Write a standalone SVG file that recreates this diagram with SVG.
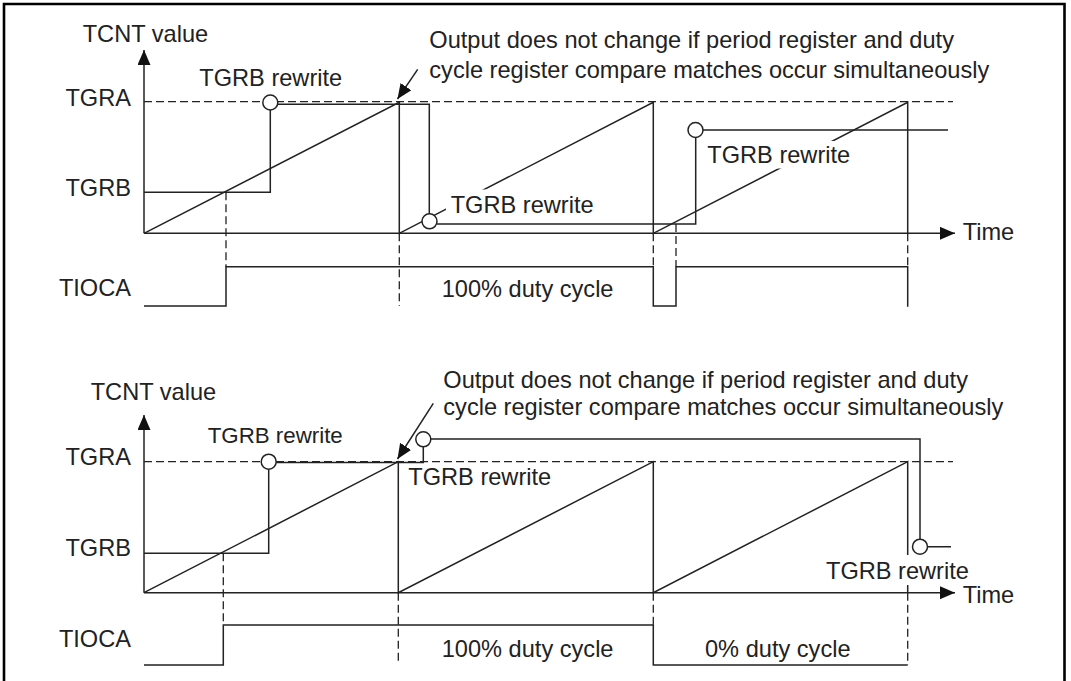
<svg xmlns="http://www.w3.org/2000/svg" width="1071" height="681" viewBox="0 0 1071 681">
<style>
text{font-family:"Liberation Sans",Arial,sans-serif;font-size:23.6px;fill:#222}
.l{fill:none;stroke:#222;stroke-width:1.5}
.d{fill:none;stroke:#222;stroke-width:1.3;stroke-dasharray:8,4}
.c{fill:#fff;stroke:#222;stroke-width:1.5}
.k{fill:#fff;stroke:none}
</style>
<defs>
<marker id="arr" markerUnits="userSpaceOnUse" markerWidth="16" markerHeight="14" refX="15" refY="6.5" orient="auto"><path d="M0,0 L15,6.5 L0,13 z" fill="#111"/></marker>
</defs>
<rect x="0" y="0" width="1071" height="681" fill="#fff"/>
<path d="M4,684 V4 H1064.5 V684" fill="none" stroke="#000" stroke-width="2.6"/>

<g id="top-panel">
<g id="top-connectors">
<path class="l" d="M144,233.3 V50" marker-end="url(#arr)"/>
<path class="l" d="M144,233.3 H955" marker-end="url(#arr)"/>
<path class="d" d="M144,101.7 H953"/>
<path class="l" d="M144,233.3 L399.3,102.3 V233.3 L653.3,102.3 V233.3 L907.7,102.3 V233.3"/>
<path class="l" d="M144,192.3 H270.3 V110 M278,104.3 H429.3 V214 M437,224 H695.7 V137.5 M703,130 H948"/>
<path class="l" d="M144,306 H226 V266.7 H653.3 V306 H676 V266.7 H907.7 V306.7"/>
<path class="d" d="M226,192.3 V266.7 M399.3,233.3 V306 M653.3,233.3 V266.7 M676,224 V266.7 M907.7,233.3 V266.7"/>
<path class="l" d="M417.7,69.3 L397.5,99" marker-end="url(#arr)"/>
</g>
<rect class="k" x="446" y="189.5" width="152" height="27.5"/>
<rect class="k" x="704" y="141" width="150" height="27.5"/>
<g id="top-circles">
<circle class="c" cx="270.3" cy="102.5" r="7.5"/>
<circle class="c" cx="429.5" cy="221.3" r="7.5"/>
<circle class="c" cx="695.5" cy="130" r="7.5"/>
</g>
<g id="top-labels">
<text x="82.7" y="41.5">TCNT value</text>
<text x="131" y="105.5" text-anchor="end">TGRA</text>
<text x="131" y="196" text-anchor="end">TGRB</text>
<text x="131" y="296" text-anchor="end">TIOCA</text>
<text x="199.3" y="86">TGRB rewrite</text>
<text x="450.7" y="212.7">TGRB rewrite</text>
<text x="707.3" y="163.3">TGRB rewrite</text>
<text x="441.7" y="296.7">100% duty cycle</text>
<text x="962.7" y="240">Time</text>
<text x="429.3" y="48.3">Output does not change if period register and duty</text>
<text x="429.3" y="78.3">cycle register compare matches occur simultaneously</text>
</g>
</g>

<g id="bottom-panel">
<g id="bottom-connectors">
<path class="l" d="M144,592.7 V415" marker-end="url(#arr)"/>
<path class="l" d="M144,592.7 H955" marker-end="url(#arr)"/>
<path class="d" d="M144,461.7 H953"/>
<path class="l" d="M144,592.7 L398.3,461.7 V592.7 L653.3,461.7 V592.7 L907.7,461.7 V592.7"/>
<path class="l" d="M144,553.3 H268.7 V469.2 M276.2,462.5 H423.3 V446.8 M430.8,439 H920 V539.2 M927.5,546.7 H951"/>
<path class="l" d="M144,665 H223.3 V625 H653.3 V665 H907.7"/>
<path class="d" d="M223.3,553.3 V625 M398.3,592.7 V663 M653.3,592.7 V625 M907.7,592.7 V665"/>
<path class="l" d="M433.3,403.3 L397.5,459" marker-end="url(#arr)"/>
</g>
<rect class="k" x="823" y="555" width="150" height="30"/>
<g id="bottom-circles">
<circle class="c" cx="268.7" cy="461.7" r="7.5"/>
<circle class="c" cx="423.3" cy="439.3" r="7.5"/>
<circle class="c" cx="920" cy="546.7" r="7.5"/>
</g>
<g id="bottom-labels">
<text x="90.7" y="400">TCNT value</text>
<text x="131" y="465" text-anchor="end">TGRA</text>
<text x="131" y="555.5" text-anchor="end">TGRB</text>
<text x="131" y="647" text-anchor="end">TIOCA</text>
<text x="207.7" y="443.3" style="font-size:22.3px">TGRB rewrite</text>
<text x="408.3" y="485">TGRB rewrite</text>
<text x="826" y="579.3">TGRB rewrite</text>
<text x="441.7" y="656.7">100% duty cycle</text>
<text x="705" y="656.7">0% duty cycle</text>
<text x="962.7" y="603.3">Time</text>
<text x="443.3" y="388.3">Output does not change if period register and duty</text>
<text x="443.3" y="415">cycle register compare matches occur simultaneously</text>
</g>
</g>
</svg>
